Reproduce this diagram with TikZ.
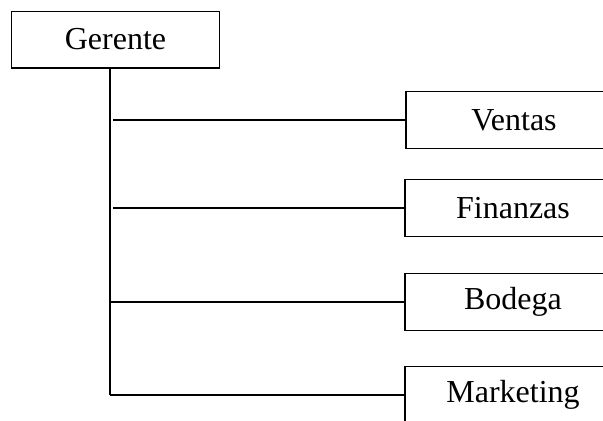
\documentclass[tikz,border=0pt]{standalone}
\usepackage{fontspec}
\setmainfont{Liberation Serif}
\tikzset{
    caja/.style={
           rectangle,
           draw=black, line width=1pt,
           minimum width=156pt,
           minimum height=42.5pt,
           inner sep=0pt,
           font=\fontsize{24}{28}\selectfont,
           text centered},
    cajad/.style={
           caja,
           minimum width=162pt},
    linea/.style={
           draw=black, line width=1.2pt}
    }
\begin{document}
\begin{tikzpicture}[x=0.75pt,y=-0.75pt]
\useasboundingbox (0,0) rectangle (603,421);
\clip (0,0) rectangle (603,421);
\node[caja] (gerente) at (115.5,39.5) {Gerente};
\node[cajad] (ventas) at (514,120) {Ventas};
\node[cajad] (finanzas) at (513,208) {Finanzas};
\node[cajad] (bodega) at (513,302) {Bodega};
\node[cajad] (marketing) at (513,395) {Marketing};
\coordinate (tronco) at (110,395);
\draw[linea] (gerente.south -| tronco) -- (tronco);
\draw[linea] ([xshift=2.5pt]ventas.west -| tronco) -- (ventas.west);
\draw[linea] ([xshift=2.5pt]finanzas.west -| tronco) -- (finanzas.west);
\draw[linea] (bodega.west -| tronco) -- (bodega.west);
\draw[linea] (tronco) -- (marketing.west);
\end{tikzpicture}
\end{document}
